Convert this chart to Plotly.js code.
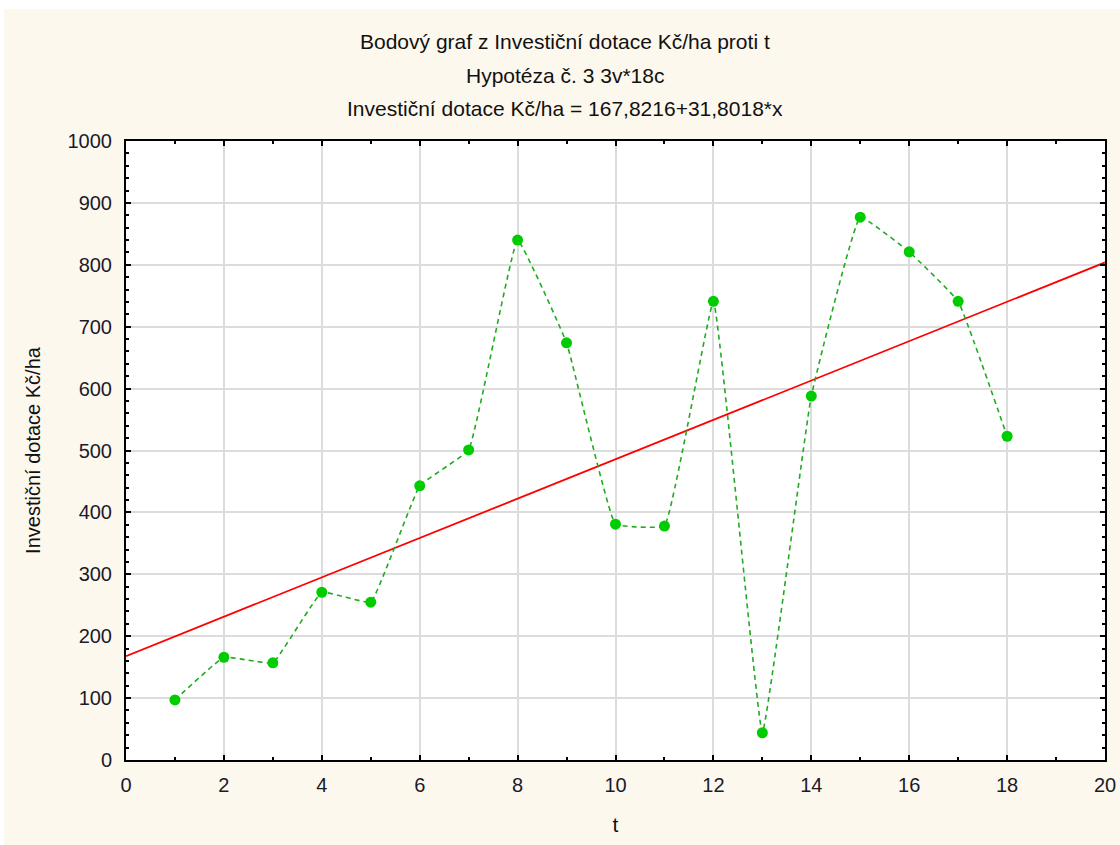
<!DOCTYPE html>
<html>
<head>
<meta charset="utf-8">
<script src="https://cdn.plot.ly/plotly-3.0.1.min.js"></script>
<style>html,body{margin:0;padding:0;background:#fdf8ee;}#chart{width:1120px;height:845px;}</style>
</head>
<body>
<div id="chart"></div>
<script>
const tValues = [1,2,3,4,5,6,7,8,9,10,11,12,13,14,15,16,17,18];
const dotace = [97,166,157,271,255,443,501,840,674,381,378,741,44,588,877,821,741,523];
const intercept = 167.8216;
const slope = 31.8018;
const fitX = [0, 20];
const fitY = fitX.map(x => intercept + slope * x);
const xTicks = [0,2,4,6,8,10,12,14,16,18,20];
const yTicks = [0,100,200,300,400,500,600,700,800,900,1000];
const titleLines = [
  'Bodový graf z Investiční dotace Kč/ha proti t',
  'Hypotéza č. 3 3v*18c',
  'Investiční dotace Kč/ha = 167,8216+31,8018*x'
];

const FONT = 'Liberation Sans, Arial, sans-serif';

const traces = [
  {
    x: fitX, y: fitY, mode: 'lines', type: 'scatter',
    line: {color: '#ff0000', width: 1.8}, hoverinfo: 'skip', showlegend: false
  },
  {
    x: tValues, y: dotace, mode: 'lines+markers', type: 'scatter',
    line: {color: '#22aa22', width: 1.6, dash: '5px,4px', shape: 'spline', smoothing: 0.25},
    marker: {color: '#00cc00', size: 11, symbol: 'circle'},
    showlegend: false
  }
];

const axisCommon = {
  showline: true, linecolor: '#000', linewidth: 2, mirror: 'ticks',
  ticks: 'inside', ticklen: 5, tickwidth: 2, tickcolor: '#000',
  showgrid: true, gridcolor: '#dcdcdc', gridwidth: 2,
  zeroline: false,
  tickfont: {family: FONT, size: 20, color: '#1a1a2a'}
};

const titleY = [1.16, 1.1066, 1.0533];

const layout = {
  width: 1120, height: 845,
  paper_bgcolor: '#fdf8ee', plot_bgcolor: '#ffffff',
  margin: {l: 126, r: 15, t: 141, b: 85},
  xaxis: Object.assign({}, axisCommon, {
    range: [0, 20], tickvals: xTicks, ticktext: xTicks.map(String),
    ticklabelstandoff: 6,
    minor: {ticks: 'inside', ticklen: 3, tickwidth: 2, tickcolor: '#000', dtick: 1, showgrid: false},
    title: {text: 't', font: {family: FONT, size: 21, color: '#111'}, standoff: 22}
  }),
  yaxis: Object.assign({}, axisCommon, {
    range: [0, 1000], tickvals: yTicks, ticktext: yTicks.map(String),
    ticklabelstandoff: 8,
    minor: {ticks: 'inside', ticklen: 3, tickwidth: 2, tickcolor: '#000', dtick: 20, showgrid: false},
    title: {text: 'Investiční dotace Kč/ha', font: {family: FONT, size: 20, color: '#111'}, standoff: 22}
  }),
  annotations: titleLines.map((t, i) => ({
    text: t, xref: 'paper', yref: 'paper', x: -0.1287 + 1.1440 * 0.5 + 0.005, y: titleY[i],
    xanchor: 'center', yanchor: 'middle', showarrow: false,
    font: {family: FONT, size: 21, color: '#111'}
  })),
  shapes: [
    {type: 'rect', xref: 'paper', yref: 'paper', x0: -0.2, x1: 1.1, y0: 1.2133, y1: 1.3, fillcolor: '#ffffff', line: {width: 0}, layer: 'below'},
    {type: 'rect', xref: 'paper', yref: 'paper', x0: -0.2, x1: -0.1246, y0: -0.2, y1: 1.3, fillcolor: '#ffffff', line: {width: 0}, layer: 'below'}
  ]
};

Plotly.newPlot('chart', traces, layout, {displayModeBar: false, staticPlot: true});
</script>
</body>
</html>
